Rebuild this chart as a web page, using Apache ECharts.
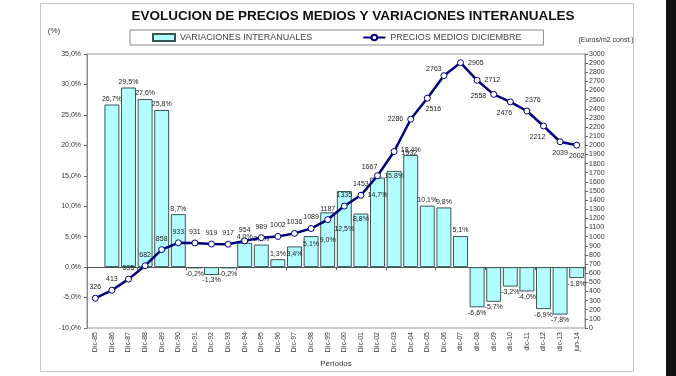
<!DOCTYPE html>
<html><head><meta charset="utf-8">
<script src="https://cdn.jsdelivr.net/npm/echarts@6/dist/echarts.min.js"></script>
<style>html,body{margin:0;padding:0;background:#fff}#c{width:676px;height:376px}</style>
</head><body><div id="c"></div>
<script>
var categories = ['Dic-85','Dic-86','Dic-87','Dic-88','Dic-89','Dic-90','Dic-91','Dic-92','Dic-93','Dic-94','Dic-95','Dic-96','Dic-97','Dic-98','Dic-99','Dic-00','Dic-01','Dic-02','Dic-03','Dic-04','Dic-05','Dic-06','dic-07','dic-08','dic-09','dic-10','dic-11','dic-12','dic-13','jun-14'];
var variaciones = ['-',26.7,29.5,27.6,25.8,8.7,-0.2,-1.3,-0.2,4.0,3.7,1.3,3.4,5.1,9.0,12.5,8.8,14.7,15.8,18.4,10.1,9.8,5.1,-6.6,-5.7,-3.2,-4.0,-6.9,-7.8,-1.8];
var precios = [326,413,535,682,858,933,931,919,917,954,989,1002,1036,1089,1187,1335,1453,1667,1932,2286,2516,2763,2905,2712,2558,2476,2376,2212,2039,2002];
var leftTicks = {min:-10, max:35, interval:5};
var rightTicks = {min:0, max:3000, interval:100};

// label placement tweaks (by category index)
var barLabelPos = {12:['insideTop',[0,2]],13:['insideTop',[0,3]],14:['inside',[0,0]],15:['inside',[0,0]],16:['insideTop',[0,0]],17:['insideTop',[0,12]],18:['insideTop',[0,0]]};
var lineLabelPos = {17:['top',[-8,2]],18:['right',[0,2]],19:['left',[0,0]],20:['bottom',[6,0]],21:['top',[-10,4]],22:['right',[0,0]],23:['right',[0,0]],24:['left',[0,2]],25:['bottom',[-6,0]],26:['top',[6,0]],27:['bottom',[-6,0]],28:['bottom',[0,0]],29:['bottom',[0,0]]};

function pct(v){return v.toFixed(1).replace('.',',')+'%';}

var barData = variaciones.map(function(v,i){
  if (v === '-') return v;
  var p = barLabelPos[i];
  return {value:v, label:{position: p ? p[0] : (v>=0?'top':'bottom'), offset: p ? p[1] : [0,0]}};
});
var lineData = precios.map(function(v,i){
  var p = lineLabelPos[i];
  return {value:v, label:{position: p ? p[0] : 'top', offset: p ? p[1] : [0,0]}};
});

var F = '"Liberation Sans", Arial, sans-serif';
var chart = echarts.init(document.getElementById('c'), null, {renderer:'canvas'});
chart.setOption({
  animation:false,
  backgroundColor:'#fff',
  textStyle:{fontFamily:F},
  graphic:[
    {type:'rect', z:-10, shape:{x:40.5,y:3.5,width:593,height:368}, style:{fill:'#fff',stroke:'#c8c8c8',lineWidth:1}},
    {type:'rect', z:-10, shape:{x:666,y:0,width:10,height:376}, style:{fill:'#111'}},
    {type:'text', x:353, y:16, style:{text:'EVOLUCION DE PRECIOS MEDIOS Y VARIACIONES INTERANUALES', align:'center', verticalAlign:'middle', font:'bold 13.5px "Liberation Sans", Arial', fill:'#111'}},
    {type:'text', x:54, y:31, style:{text:'(%)', align:'center', verticalAlign:'middle', font:'8px '+F, fill:'#333'}},
    {type:'text', x:606, y:40, style:{text:'(Euros/m2 const.)', align:'center', verticalAlign:'middle', font:'7px '+F, fill:'#333'}}
  ],
  legend:{
    top:30, left:130, borderColor:'#888', borderWidth:1, padding:[3,22],
    itemGap:50, itemWidth:22, itemHeight:7,
    textStyle:{fontSize:9, color:'#444', fontFamily:F},
    data:[{name:'VARIACIONES INTERANUALES', icon:'rect'},{name:'PRECIOS MEDIOS DICIEMBRE'}]
  },
  grid:{left:87, right:91, top:54, bottom:48, show:true, borderColor:'#999', borderWidth:1, containLabel:false},
  xAxis:[
    {type:'category', data:categories, position:'bottom',
     axisLine:{show:false, onZero:false}, axisTick:{show:false},
     axisLabel:{rotate:90, fontSize:7, color:'#333', margin:4, interval:0},
     name:'Periodos', nameLocation:'middle', nameGap:32, nameTextStyle:{fontSize:8, color:'#333'}},
    {type:'category', data:categories, position:'bottom',
     axisLine:{show:true, onZero:true, onZeroAxisIndex:0, lineStyle:{color:'#555', width:1}},
     axisTick:{show:true, inside:false, length:3, lineStyle:{color:'#555'}},
     axisLabel:{show:false}}
  ],
  yAxis:[
    {type:'value', min:leftTicks.min, max:leftTicks.max, interval:leftTicks.interval,
     axisLine:{show:true, lineStyle:{color:'#888'}}, axisTick:{show:true, length:3, lineStyle:{color:'#666'}},
     splitLine:{show:false}, axisLabel:{fontSize:7, color:'#333', margin:6, formatter:function(v){return pct(v);}}},
    {type:'value', min:rightTicks.min, max:rightTicks.max, interval:rightTicks.interval, position:'right',
     axisLine:{show:true, lineStyle:{color:'#888'}}, axisTick:{show:true, length:3, lineStyle:{color:'#666'}},
     splitLine:{show:false}, axisLabel:{fontSize:7, color:'#333', margin:4, formatter:function(v){return String(v);}}}
  ],
  series:[
    {name:'VARIACIONES INTERANUALES', type:'bar', xAxisIndex:0, yAxisIndex:0, data:barData,
     barCategoryGap:'10%',
     itemStyle:{color:'#b3ffff', borderColor:'#3b5555', borderWidth:1},
     label:{show:true, fontSize:7, color:'#222', distance:2, formatter:function(p){return pct(p.value);}}},
    {name:'PRECIOS MEDIOS DICIEMBRE', type:'line', xAxisIndex:0, yAxisIndex:1, data:lineData, z:5,
     lineStyle:{color:'#00007a', width:2.5}, itemStyle:{color:'#fff', borderColor:'#00007a', borderWidth:1},
     symbol:'circle', symbolSize:6, showAllSymbol:true,
     label:{show:true, fontSize:7, color:'#222', distance:4}}
  ]
});
</script></body></html>
